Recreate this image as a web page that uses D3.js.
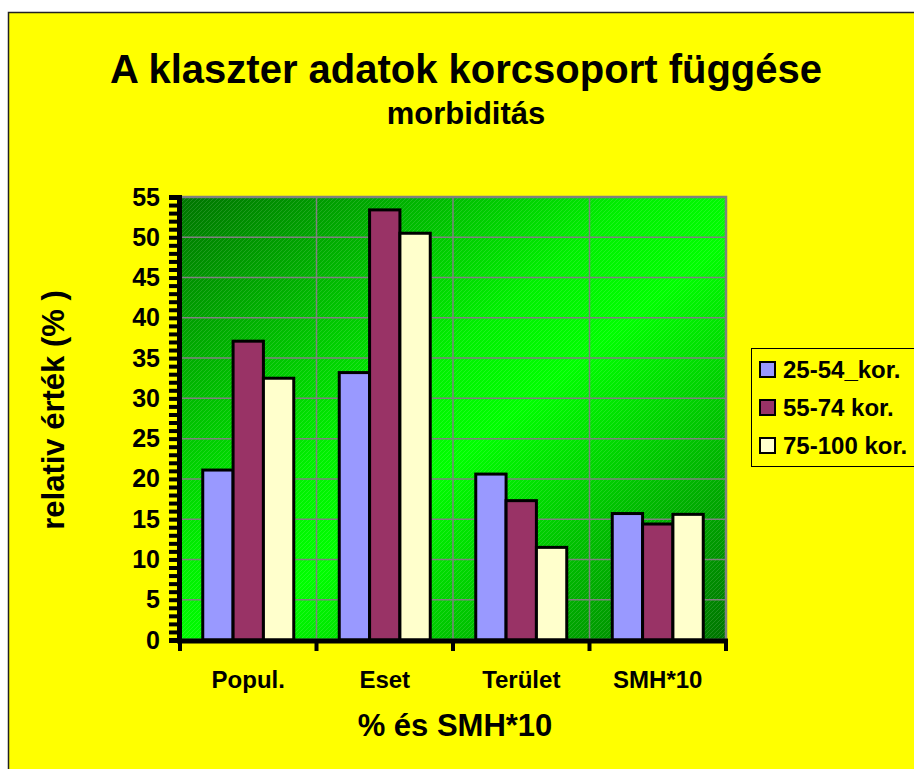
<!DOCTYPE html>
<html>
<head>
<meta charset="utf-8">
<script src="https://cdn.jsdelivr.net/npm/d3@7"></script>
<style>
  body { margin: 0; background: #fff; }
  svg { display: block; font-family: Arial, "Liberation Sans", sans-serif; font-weight: bold; }
</style>
</head>
<body>
<script>
// data
var categories = ['Popul.', 'Eset', 'Terület', 'SMH*10'];
var series = ['25-54_kor.', '55-74 kor.', '75-100 kor.'];
var colors = ['#9999ff', '#993366', '#ffffcc'];
var values25 = [21.1, 33.2, 20.6, 15.7];
var values55 = [37.1, 53.4, 17.3, 14.4];
var values75 = [32.5, 50.5, 11.5, 15.6];
var yTicks = [0, 5, 10, 15, 20, 25, 30, 35, 40, 45, 50, 55];

var allValues = [values25, values55, values75];

//layout
var W = 914, H = 769;
var plot = {left: 180, right: 726, top: 197, bottom: 640};
var FONT = 'Arial, "Liberation Sans", sans-serif';

var svg = d3.select('body').append('svg')
  .attr('width', W).attr('height', H);

var defs = svg.append('defs');
var grad = defs.append('linearGradient')
  .attr('id', 'bg').attr('x1', 0).attr('y1', 0).attr('x2', 1).attr('y2', 1);
grad.append('stop').attr('offset', '0%').attr('stop-color', '#007400');
grad.append('stop').attr('offset', '42%').attr('stop-color', '#00f000');
grad.append('stop').attr('offset', '55%').attr('stop-color', '#00ff00');
grad.append('stop').attr('offset', '100%').attr('stop-color', '#007400');

// fine diagonal hatch on top of the gradient
var hatch = defs.append('pattern')
  .attr('id', 'hatch').attr('width', 4).attr('height', 4)
  .attr('patternUnits', 'userSpaceOnUse');
hatch.append('path').attr('d', 'M-1,5 L5,-1')
  .attr('stroke', '#ffffff').attr('stroke-opacity', 0.12).attr('stroke-width', 1);

// chart area (yellow), runs off right and bottom edges
svg.append('rect')
  .attr('x', 8.5).attr('y', 12.5).attr('width', W).attr('height', H)
  .attr('fill', '#ffff00').attr('stroke', '#222').attr('stroke-width', 1.5);

var x0 = d3.scaleBand().domain(categories).range([plot.left, plot.right]).padding(0);
var x1 = d3.scaleBand().domain(series).range([0, x0.bandwidth()])
  .paddingInner(0).paddingOuter(0.75);
var y = d3.scaleLinear().domain([0, 55]).range([plot.bottom, plot.top]);

// plot background
svg.append('rect')
  .attr('x', plot.left).attr('y', plot.top)
  .attr('width', plot.right - plot.left).attr('height', plot.bottom - plot.top)
  .attr('fill', 'url(#bg)');
svg.append('rect')
  .attr('x', plot.left).attr('y', plot.top)
  .attr('width', plot.right - plot.left).attr('height', plot.bottom - plot.top)
  .attr('fill', 'url(#hatch)');

// grid
svg.append('g').selectAll('line.h')
  .data(yTicks.slice(1))
  .enter().append('line')
  .attr('x1', plot.left).attr('x2', plot.right)
  .attr('y1', function(d) { return y(d); }).attr('y2', function(d) { return y(d); })
  .attr('stroke', '#808080').attr('stroke-width', 1.5);
svg.append('g').selectAll('line.v')
  .data(categories.slice(1))
  .enter().append('line')
  .attr('x1', function(d) { return x0(d); }).attr('x2', function(d) { return x0(d); })
  .attr('y1', plot.top).attr('y2', plot.bottom)
  .attr('stroke', '#808080').attr('stroke-width', 1.5);
svg.append('rect')
  .attr('x', plot.left).attr('y', plot.top)
  .attr('width', plot.right - plot.left).attr('height', plot.bottom - plot.top)
  .attr('fill', 'none').attr('stroke', '#808080').attr('stroke-width', 2.5);

// bars
var groups = svg.append('g').selectAll('g')
  .data(categories)
  .enter().append('g')
  .attr('transform', function(d) { return 'translate(' + x0(d) + ',0)'; });
groups.selectAll('rect')
  .data(function(d, i) {
    return series.map(function(s, j) { return {s: s, v: allValues[j][i], c: colors[j]}; });
  })
  .enter().append('rect')
  .attr('x', function(d) { return x1(d.s); })
  .attr('width', x1.bandwidth())
  .attr('y', function(d) { return y(d.v); })
  .attr('height', function(d) { return y(0) - y(d.v); })
  .attr('fill', function(d) { return d.c; })
  .attr('stroke', '#000').attr('stroke-width', 3);

// y axis: minor ticks every 1, labels every 5
var yAxis = svg.append('g').attr('transform', 'translate(' + (plot.left - 1) + ',0)');
yAxis.call(d3.axisLeft(y).tickValues(d3.range(0, 56, 1)).tickSize(10).tickFormat(''));
yAxis.selectAll('.tick line').attr('stroke-width', 4);
yAxis.select('.domain').attr('stroke-width', 5);
var yLab = svg.append('g').attr('transform', 'translate(' + (plot.left - 1) + ',0)');
yLab.call(d3.axisLeft(y).tickValues(yTicks).tickSize(0).tickPadding(19));
yLab.select('.domain').remove();
yLab.selectAll('text')
  .attr('font-size', 25).attr('font-family', FONT)
  .attr('font-weight', 'bold').attr('fill', '#000');

// x axis
var xAxis = svg.append('g').attr('transform', 'translate(0,' + (plot.bottom + 1) + ')');
xAxis.call(d3.axisBottom(x0).tickSize(10).tickPadding(20).tickSizeOuter(0));
xAxis.select('.domain').attr('stroke-width', 5)
  .attr('d', 'M' + (plot.left - 3) + ',0H' + (plot.right + 2));
xAxis.selectAll('.tick line')
  .attr('transform', function() { return 'translate(' + (x0.bandwidth() / 2) + ',0)'; })
  .attr('stroke-width', 4);
xAxis.selectAll('text')
  .attr('font-size', 24).attr('font-family', FONT)
  .attr('font-weight', 'bold').attr('fill', '#000');
// boundary tick at left edge
xAxis.append('line')
  .attr('x1', plot.left).attr('x2', plot.left).attr('y1', 0).attr('y2', 10)
  .attr('stroke', '#000').attr('stroke-width', 4);

// titles
svg.append('text').attr('x', 466).attr('y', 83).attr('text-anchor', 'middle')
  .attr('font-size', 40).text('A klaszter adatok korcsoport függése');
svg.append('text').attr('x', 466).attr('y', 124).attr('text-anchor', 'middle')
  .attr('font-size', 31).text('morbiditás');
svg.append('text').attr('x', 455).attr('y', 736).attr('text-anchor', 'middle')
  .attr('font-size', 31).text('% és SMH*10');
svg.append('text')
  .attr('transform', 'translate(64,410) rotate(-90)')
  .attr('text-anchor', 'middle').attr('font-size', 31)
  .text('relativ érték (% )');

// legend
var legend = svg.append('g').attr('transform', 'translate(751,348)');
legend.append('rect').attr('x', 0.5).attr('y', 0.5).attr('width', 220).attr('height', 118)
  .attr('fill', '#ffff00').attr('stroke', '#000').attr('stroke-width', 1);
var items = legend.selectAll('g.item')
  .data(series)
  .enter().append('g')
  .attr('transform', function(d, i) { return 'translate(0,' + (21 + i * 38) + ')'; });
items.append('rect')
  .attr('x', 9).attr('y', -7).attr('width', 15).attr('height', 15)
  .attr('fill', function(d, i) { return colors[i]; })
  .attr('stroke', '#000').attr('stroke-width', 2);
items.append('text')
  .attr('x', 32).attr('y', 9).attr('font-size', 24)
  .text(function(d) { return d; });
</script>
</body>
</html>
